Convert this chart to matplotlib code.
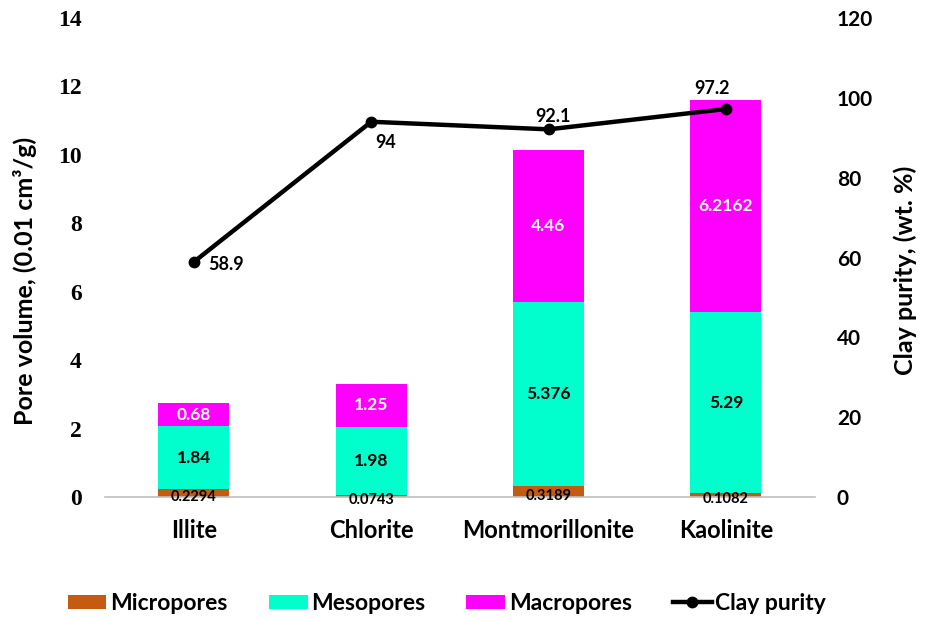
import matplotlib.pyplot as plt
import numpy as np

clays = ["Illite", "Chlorite", "Montmorillonite", "Kaolinite"]
micropores = [0.2294, 0.0743, 0.3189, 0.1082]
mesopores = [1.84, 1.98, 5.376, 5.29]
macropores = [0.68, 1.25, 4.46, 6.2162]
clay_purity = [58.9, 94, 92.1, 97.2]

sans = "Lato"
serif = "Liberation Serif"

fig = plt.figure(figsize=(9.31, 6.19), dpi=100)
ax = fig.add_axes([0.113, 0.197, 0.762, 0.774])
ax2 = ax.twinx()

x = np.arange(len(clays))
w = 0.4
micro = np.array(micropores)
meso = np.array(mesopores)
macro = np.array(macropores)

b1 = ax.bar(x, micro, w, color="#C55A11", label="Micropores", zorder=2)
b2 = ax.bar(x, meso, w, bottom=micro, color="#00FFCC", label="Mesopores", zorder=2)
b3 = ax.bar(x, macro, w, bottom=micro + meso, color="#FF00FF", label="Macropores", zorder=2)

# value labels inside the stacks
for i in range(len(clays)):
    ax.text(x[i], micro[i] / 2 - 0.12, f"{micropores[i]}", ha="center", va="center",
            fontsize=10.5, fontweight="bold", family=sans, zorder=3)
    ax.text(x[i], micro[i] + meso[i] / 2, f"{mesopores[i]}", ha="center", va="center",
            fontsize=12.5, fontweight="bold", family=sans, zorder=3)
    ax.text(x[i], micro[i] + meso[i] + macro[i] / 2, f"{macropores[i]}", ha="center", va="center",
            fontsize=12.5, fontweight="bold", family=sans, color="white", zorder=3)

ax.set_xlim(-0.5, 3.5)
ax.set_ylim(0, 14)
ax.set_yticks(range(0, 15, 2))
ax.set_yticklabels([str(v) for v in range(0, 15, 2)], family=serif, fontweight="bold", fontsize=17)
ax.set_xticks(x)
ax.set_xticklabels(clays, family=sans, fontweight="bold", fontsize=17)
ax.tick_params(length=0)
ax.tick_params(axis="x", pad=16)
ax.tick_params(axis="y", pad=17)
ax.set_ylabel("Pore volume, (0.01 cm³/g)", family=sans, fontweight="bold", fontsize=18)
ax.yaxis.set_label_coords(-0.096, 0.452)
for s in ["top", "left", "right"]:
    ax.spines[s].set_visible(False)
ax.spines["bottom"].set_color("#BFBFBF")
ax.spines["bottom"].set_linewidth(1.2)

ln, = ax2.plot(x, clay_purity, color="black", lw=3.2, marker="o", ms=7.5, label="Clay purity", zorder=4)
ax2.set_ylim(0, 120)
ax2.set_yticks(range(0, 121, 20))
ax2.set_yticklabels([str(v) for v in range(0, 121, 20)], family=sans, fontweight="bold", fontsize=15)
ax2.tick_params(length=0, pad=16)
ax2.set_ylabel("Clay purity, (wt. %)", family=sans, fontweight="bold", fontsize=18)
ax2.yaxis.set_label_coords(1.111, 0.474)
for s in ax2.spines.values():
    s.set_visible(False)

# purity labels
lab = dict(fontsize=13, fontweight="bold", family=sans, textcoords="offset points", va="center")
ax2.annotate("58.9", (x[0], clay_purity[0]), xytext=(10, -2), ha="left", **lab)
ax2.annotate("94", (x[1], clay_purity[1]), xytext=(10, -15), ha="center", **lab)
ax2.annotate("92.1", (x[2], clay_purity[2]), xytext=(3, 9), ha="center", **lab)
ax2.annotate("97.2", (x[3], clay_purity[3]), xytext=(-10, 15), ha="center",
             arrowprops=dict(arrowstyle="-", color="#A6A6A6", lw=0.8, shrinkA=5, shrinkB=3), **lab)

fig.legend([b1, b2, b3, ln], ["Micropores", "Mesopores", "Macropores", "Clay purity"],
           loc="center", bbox_to_anchor=(0.48, 0.025), ncol=4, frameon=False,
           prop={"family": sans, "weight": "bold", "size": 16.5}, columnspacing=1.8,
           handlelength=1.7, handleheight=0.6, handletextpad=0.15)

fig.savefig("out.png", dpi=100)
